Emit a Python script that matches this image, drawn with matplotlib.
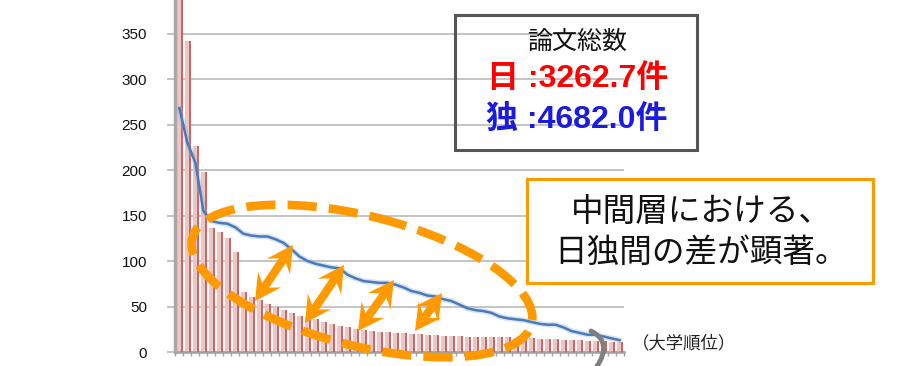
import numpy as np
import matplotlib
matplotlib.use("Agg")
import matplotlib.pyplot as plt
from matplotlib.patches import Ellipse, Rectangle, Polygon, PathPatch
from matplotlib.path import Path

plt.rcParams['font.family'] = ['Liberation Sans', 'Noto Sans CJK JP', 'DejaVu Sans']

# 論文数（大学順位順）
japan_papers = [420, 342, 227, 198, 136, 132, 125, 110,
                66, 61, 57, 53, 49, 46, 43, 40,
                38, 36, 33, 31, 29, 27, 25, 24,
                23, 22, 22, 21, 21, 20, 20, 19,
                19, 18, 18, 18, 17, 17, 17, 16,
                16, 16, 15, 15, 15, 14, 14, 14,
                13, 13, 13, 12, 12, 12, 11, 11]
germany_papers = [268, 230, 208, 155, 144, 142, 141, 137,
                  130, 128, 127, 127, 124, 120, 113, 105,
                  100, 97, 95, 93, 92, 85, 81, 78,
                  77, 76, 76, 74, 71, 67, 65, 62,
                  61, 58, 56, 52, 48, 46, 45, 43,
                  39, 37, 36, 35, 33, 31, 30, 30,
                  27, 23, 21, 19, 19, 17, 15, 13]
y_ticks = [0, 50, 100, 150, 200, 250, 300, 350]
total_label = "論文総数"
japan_total = "日 :3262.7件"
germany_total = "独 :4682.0件"
note_lines = ["中間層における、", "日独間の差が顕著。"]
x_label = "（大学順位）"

W, H = 910, 366
fig = plt.figure(figsize=(W / 100, H / 100), dpi=100)
ax = fig.add_axes([175 / W, 1 - 352 / H, (624 - 175) / W, 352 / H])

n = len(japan_papers)
x = np.arange(n)
pink = '#efc4c4'
dark_red = '#c65855'
ax.bar(x - 0.36, japan_papers, width=0.58, align='edge', color=pink, zorder=2)
ax.bar(x + 0.2, japan_papers, width=0.22, align='edge', color=dark_red,
       alpha=0.9, zorder=3)
ax.plot(x, germany_papers, color='#8fb0d8', lw=4, alpha=0.35, zorder=4,
        solid_capstyle='round')
ax.plot(x, germany_papers, color='#4a7ab8', lw=1.8, zorder=5)

ax.set_xlim(-0.55, n - 0.45)
ax.set_ylim(0, 387)
ax.set_yticks(y_ticks)
ax.yaxis.grid(True, color='#c4c4c4', lw=1.4, zorder=0)
ax.set_axisbelow(True)
ax.tick_params(axis='y', length=6, width=1.4, color='#c4c4c4', pad=14,
               labelsize=11, labelcolor='#111111')
ax.set_xticks(np.arange(n + 1) - 0.5)
ax.set_xticklabels([])
ax.tick_params(axis='x', length=3, width=1, color='#a0a0a0')
for s in ['top', 'right']:
    ax.spines[s].set_visible(False)
ax.spines['left'].set_color('#a8a8a8')
ax.spines['left'].set_linewidth(2.5)
ax.spines['bottom'].set_color('#a0a0a0')
ax.spines['bottom'].set_linewidth(1.8)
ax.spines['left'].set_zorder(6)

# overlay in pixel coordinates for callouts
ov = fig.add_axes([0, 0, 1, 1], zorder=10)
ov.set_xlim(0, W)
ov.set_ylim(H, 0)
ov.axis('off')
orange = '#ff9900'

ov.add_patch(Ellipse((362, 281), 350, 130, angle=14.2, fill=False,
                     edgecolor=orange, lw=6.2, linestyle=(0, (3.4, 1.4)),
                     capstyle='butt'))


def double_arrow(p0, p1, shaft=4.2, head_len=19, head_half=14, notch=7):
    p0 = np.array(p0, float)
    p1 = np.array(p1, float)
    d = p1 - p0
    L = np.hypot(*d)
    u = d / L
    v = np.array([-u[1], u[0]])
    local = [(0, 0), (head_len + notch, head_half), (head_len, shaft),
             (L - head_len, shaft), (L - head_len - notch, head_half), (L, 0),
             (L - head_len - notch, -head_half), (L - head_len, -shaft),
             (head_len, -shaft), (head_len + notch, -head_half)]
    pts = [p0 + a * u + b * v for a, b in local]
    ov.add_patch(Polygon(pts, closed=True, facecolor=orange, edgecolor='none'))


double_arrow((255, 301), (293, 245))
double_arrow((305, 323), (344, 265))
double_arrow((358, 331), (394, 280))
double_arrow((415, 331), (442, 293))

# totals box
ov.add_patch(Rectangle((455, 15), 242, 135, fill=False, edgecolor='#555555', lw=2.2))
ov.text(577, 42, total_label, ha='center', va='center', fontsize=18, color='#111111')
ov.text(578, 79, japan_total, ha='center', va='center', fontsize=23,
        fontweight='bold', color='#ff0000')
ov.text(577, 120, germany_total, ha='center', va='center', fontsize=23,
        fontweight='bold', color='#1a1ae0')

# note box
ov.add_patch(Rectangle((527, 179), 346, 104, facecolor='white', edgecolor=orange, lw=2.2))
ov.text(701, 212, note_lines[0], ha='center', va='center', fontsize=23.5, color='#111111')
ov.text(701, 253, note_lines[1], ha='center', va='center', fontsize=23.5, color='#111111')

# axis break mark
brk = Path([(591, 331), (606, 338), (607, 352), (597, 366)],
           [Path.MOVETO, Path.CURVE4, Path.CURVE4, Path.CURVE4])
ov.add_patch(PathPatch(brk, fill=False, edgecolor='#808080', lw=3.5, capstyle='round'))

ov.text(632, 343, x_label, ha='left', va='center', fontsize=12.5, color='#222222')

fig.savefig('out.png', dpi=100)
